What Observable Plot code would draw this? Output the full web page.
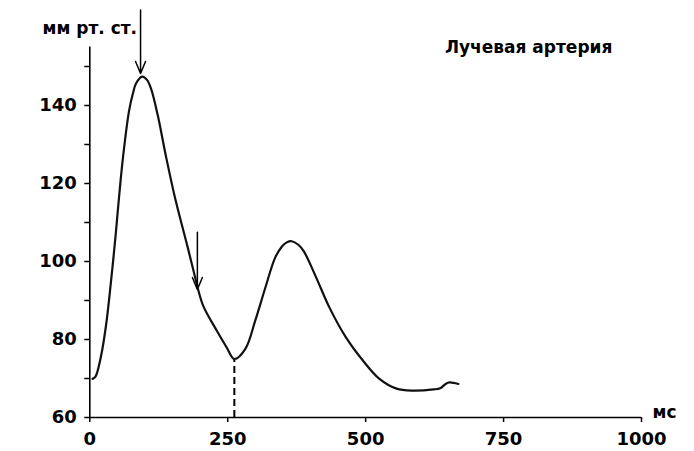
<!DOCTYPE html>
<html>
<head>
<meta charset="utf-8">
<script src="https://cdn.jsdelivr.net/npm/d3@7"></script>
<script src="https://cdn.jsdelivr.net/npm/@observablehq/plot@0.6"></script>
<style>
  html, body { margin: 0; padding: 0; background: #fff; }
</style>
</head>
<body>
<div id="chart"></div>
<script>
// Time (ms) and pressure (mm Hg)
const timeMs = [5, 10, 20, 29, 38, 47, 53, 60, 71, 78, 84, 95, 104, 111, 123, 138, 155, 175, 190, 196, 206, 230, 248, 262, 282, 300, 318, 336, 348, 357, 366, 378, 388, 410, 434, 464, 495, 525, 556, 586, 623, 635, 645, 652, 668];
const pressure = [69.9, 70.4, 75.5, 83.2, 94.3, 107, 116.5, 126.5, 138.5, 143, 145.7, 147.4, 146.5, 144.3, 137.6, 127, 116, 105, 96.5, 93, 88.5, 82.3, 78, 75, 77.6, 84.9, 93.2, 101, 103.8, 104.9, 105.2, 104.3, 102.6, 96, 88.3, 80.6, 74.6, 69.9, 67.4, 66.9, 67.2, 67.5, 68.6, 69.0, 68.6];

// Arrows (start/end in data units)
const arrowX = [92, 195];
const arrowYStart = [164.5, 107.5];
const arrowYEnd = [148.2, 92.8];

// Dashed marker at the dicrotic notch
const notchTime = [262];
const notchPressure = [75];

const xTicks = [0, 250, 500, 750, 1000];
const yTicks = [60, 70, 80, 90, 100, 110, 120, 130, 140, 150];
const yLabels = [60, 80, 100, 120, 140];

const titleText = "Лучевая артерия";
const yUnit = "мм рт. ст.";
const xUnit = "мс";

const curve = timeMs.map((t, i) => ({t, p: pressure[i]}));
const arrows = arrowX.map((x, i) => ({x, y1: arrowYStart[i], y2: arrowYEnd[i]}));
const notch = notchTime.map((t, i) => ({t, p: notchPressure[i]}));

const chart = Plot.plot({
  width: 694,
  height: 451,
  marginLeft: 89.3,
  marginRight: 53,
  marginTop: 46.5,
  marginBottom: 34,
  x: {domain: [0, 1000]},
  y: {domain: [60, 155]},
  style: "font-family: 'DejaVu Sans', sans-serif; font-size: 17px; font-weight: bold; color: #000; background: #fff;",
  marks: [
    Plot.axisX({ticks: xTicks, tickSize: 5, tickPadding: 10, label: null, strokeWidth: 1.5, fontSize: 18,
      tickFormat: d => String(d)}),
    Plot.axisY({ticks: yTicks, tickSize: 5, tickPadding: 8, label: null, strokeWidth: 1.5, fontSize: 18,
      tickFormat: d => yLabels.includes(d) ? String(d) : ""}),
    Plot.ruleY([60], {stroke: "#000", strokeWidth: 1.6}),
    Plot.ruleX([0], {stroke: "#000", strokeWidth: 1.6}),
    Plot.ruleX(notch, {x: "t", y1: 60, y2: "p", stroke: "#000", strokeWidth: 2, strokeDasharray: "7,4"}),
    Plot.line(curve, {x: "t", y: "p", curve: "catmull-rom", stroke: "#111", strokeWidth: 2.2}),
    Plot.arrow(arrows, {x1: "x", y1: "y1", x2: "x", y2: "y2", stroke: "#000", strokeWidth: 1.5, headLength: 13, headAngle: 45}),
    Plot.text([titleText], {frameAnchor: "top", textAnchor: "middle", lineAnchor: "middle", dx: 163, dy: 1, fill: "#000"}),
    Plot.text([yUnit], {frameAnchor: "top-left", textAnchor: "middle", lineAnchor: "middle", dx: 0, dy: -18, fill: "#000"}),
    Plot.text([xUnit], {frameAnchor: "bottom-right", textAnchor: "start", lineAnchor: "middle", dx: 11, dy: -5, fill: "#000"})
  ]
});
document.getElementById("chart").appendChild(chart);
</script>
</body>
</html>
